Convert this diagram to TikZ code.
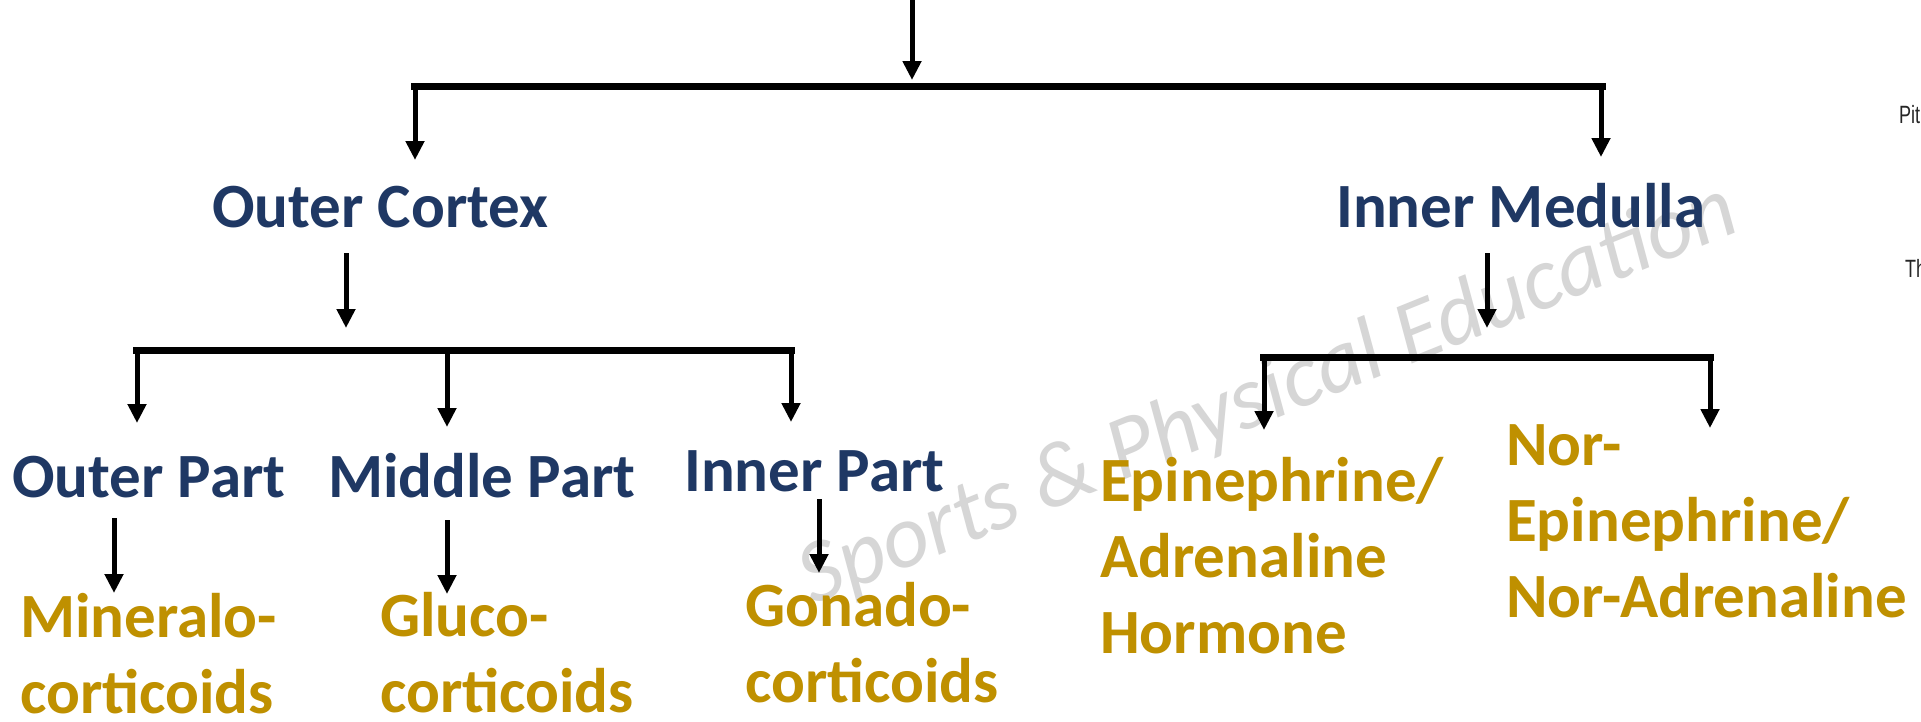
\documentclass[tikz,border=0pt]{standalone}
\usepackage{fontspec}
\setmainfont{Carlito}
\newfontfamily\arialfont{Liberation Sans}
\usetikzlibrary{arrows.meta}
\definecolor{navy}{HTML}{1F3864}
\definecolor{gold}{HTML}{BF9000}
\definecolor{wmgray}{HTML}{D6D6D6}
\tikzset{
  lvl/.style={inner sep=0pt, anchor=base west, font=\bfseries\fontsize{63}{76}\selectfont, text=navy},
  hormone/.style={inner sep=0pt, anchor=base west, align=left, font=\bfseries\fontsize{63}{76}\selectfont, text=gold},
  bar/.style={line width=7pt},
  arr/.style={line width=5pt, -{Triangle[length=19pt,width=18pt]}},
  edgetext/.style={inner sep=0pt, anchor=base west, font=\arialfont\fontsize{25}{25}\selectfont, text=black!85},
}
\begin{document}
\begin{tikzpicture}[x=1pt,y=-1pt]
\useasboundingbox[fill=white] (0,0) rectangle (1921,721);
% watermark
\node[inner sep=0pt, rotate=22, anchor=base, font=\itshape\fontsize{90}{90}\selectfont, text=wmgray] (wm) at (1278,418) {Sports \& Physical Education};
% labels
\node[lvl] (oc) at (212,227) {Outer Cortex};
\node[lvl] (im) at (1336,227) {Inner Medulla};
\node[lvl] (op) at (12,497) {Outer Part};
\node[lvl] (mp) at (328,497) {Middle Part};
\node[lvl] (ip) at (684,491) {Inner Part};
\node[hormone] (mc) at (20,713) {Mineralo-\\corticoids};
\node[hormone] (gc) at (380,712) {Gluco-\\corticoids};
\node[hormone] (gd) at (745,702) {Gonado-\\corticoids};
\node[hormone] (ep) at (1100,653) {Epinephrine/\\Adrenaline\\Hormone};
\node[hormone] (ne) at (1506,617) {Nor-\\Epinephrine/\\Nor-Adrenaline};
\node[edgetext] (pit) at (1899,123) {\scalebox{0.72}[1]{Pit}};
\node[edgetext] (th) at (1905,277) {\scalebox{0.72}[1]{Th}};
% coordinates
\coordinate (top) at (912,0);
\coordinate (topend) at (912,80);
\coordinate (b1L) at (411,86);
\coordinate (b1R) at (1606,86);
\coordinate (d1L) at (415,86);
\coordinate (d1R) at (1601,86);
\coordinate (ocin) at (415,160);
\coordinate (imin) at (1601,157);
\coordinate (ocout) at (346,253);
\coordinate (ocend) at (346,328);
\coordinate (imout) at (1487,253);
\coordinate (imend) at (1487,328);
\coordinate (b2L) at (133,350);
\coordinate (b2R) at (795,350);
\coordinate (d2a) at (137,350);
\coordinate (d2b) at (447,350);
\coordinate (d2c) at (791,350);
\coordinate (opin) at (137,423);
\coordinate (mpin) at (447,427);
\coordinate (ipin) at (791,422);
\coordinate (b3L) at (1260,357);
\coordinate (b3R) at (1714,357);
\coordinate (d3a) at (1264,357);
\coordinate (d3b) at (1710,357);
\coordinate (epin) at (1264,430);
\coordinate (nein) at (1710,428);
\coordinate (opout) at (114,518);
\coordinate (mcin) at (114,593);
\coordinate (mpout) at (447,520);
\coordinate (gcin) at (447,594);
\coordinate (ipout) at (819,499);
\coordinate (gdin) at (819,573);
% connectors
\draw[arr] (top) -- (topend);
\draw[bar] (b1L) -- (b1R);
\draw[arr] (d1L) -- (ocin);
\draw[arr] (d1R) -- (imin);
\draw[arr] (ocout) -- (ocend);
\draw[arr] (imout) -- (imend);
\draw[bar] (b2L) -- (b2R);
\draw[arr] (d2a) -- (opin);
\draw[arr] (d2b) -- (mpin);
\draw[arr] (d2c) -- (ipin);
\draw[bar] (b3L) -- (b3R);
\draw[arr] (d3a) -- (epin);
\draw[arr] (d3b) -- (nein);
\draw[arr] (opout) -- (mcin);
\draw[arr] (mpout) -- (gcin);
\draw[arr] (ipout) -- (gdin);
\end{tikzpicture}
\end{document}
